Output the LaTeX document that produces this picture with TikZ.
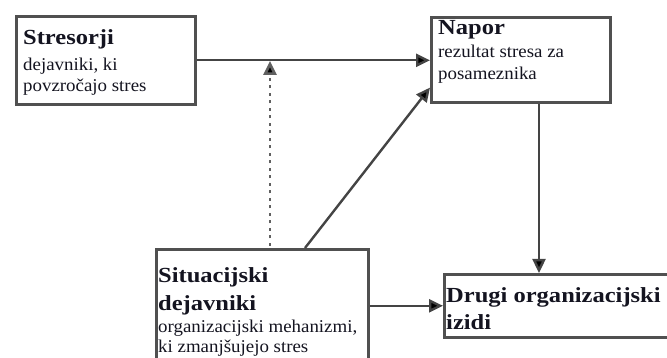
\documentclass[tikz,border=0pt]{standalone}
\usepackage{fontspec}
\setmainfont{Liberation Serif}
\newfontfamily\headfont[FakeStretch=1.14]{Liberation Serif}
\newfontfamily\bodyfont[FakeStretch=1.05]{Liberation Serif}
\usetikzlibrary{arrows.meta,calc}
\definecolor{boxgray}{HTML}{505050}
\definecolor{linegray}{HTML}{444444}
\definecolor{inkcol}{HTML}{141420}

\begin{document}
\begin{tikzpicture}[x=1pt,y=-1pt,
  box/.style={draw=boxgray, line width=2.6pt, fill=white, inner sep=0pt, anchor=north west},
  headline/.style={anchor=base west, inner sep=0pt, text=inkcol, font=\headfont\bfseries\fontsize{21.5}{24}\selectfont},
  bodyline/.style={anchor=base west, inner sep=0pt, text=inkcol, font=\bodyfont\fontsize{18}{20}\selectfont},
  conn/.style={draw=linegray, line width=2.4pt, -{Triangle[length=14pt,width=13pt,fill=black]}},
  dotconn/.style={draw=linegray!85, line width=2.6pt, dash pattern=on 3pt off 4.5pt,
    -{Triangle[length=14pt,width=13pt,fill=black]}}]

\useasboundingbox (0,0) rectangle (667,358);
\clip (0,0) rectangle (667,358);

% boxes
\node[box, minimum width=179pt, minimum height=88pt] (stres) at (15,15) {};
\node[box, minimum width=179pt, minimum height=85pt] (napor) at (430,16) {};
\node[box, minimum width=247pt, minimum height=63pt] (drugi) at (443,273) {};
\node[box, minimum width=212pt, minimum height=125pt] (situ) at (155,248) {};

% box texts
\node[headline] (stresA) at ($(stres.north west)+(8,30)$) {Stresorji};
\node[bodyline] (stresB) at ($(stres.north west)+(8,56)$) {dejavniki, ki};
\node[bodyline] (stresC) at ($(stres.north west)+(8,77)$) {povzročajo stres};

\node[headline] (naporA) at ($(napor.north west)+(8,19)$) {Napor};
\node[bodyline] (naporB) at ($(napor.north west)+(8,42)$) {rezultat stresa za};
\node[bodyline] (naporC) at ($(napor.north west)+(8,64)$) {posameznika};

\node[headline] (drugiA) at ($(drugi.north west)+(3,29)$) {Drugi organizacijski};
\node[headline] (drugiB) at ($(drugi.north west)+(3,57)$) {izidi};

\node[headline] (situA) at ($(situ.north west)+(3,35)$) {Situacijski};
\node[headline] (situB) at ($(situ.north west)+(3,62)$) {dejavniki};
\node[bodyline] (situC) at ($(situ.north west)+(3,84)$) {organizacijski mehanizmi,};
\node[bodyline] (situD) at ($(situ.north west)+(3,104)$) {ki zmanjšujejo stres};

% connectors
\coordinate (sitTop) at ($(situ.north west)+(150,0)$);
\coordinate (naporIn) at ($(napor.south west)+(0,-16)$);
\coordinate (naporOut) at ($(napor.south west)+(109,0)$);
\coordinate (dotStart) at ($(situ.north west)+(115,-2)$);
\coordinate (dotTip) at (270,61);

\draw[conn] (stres.east) -- (stres.east -| napor.west);
\draw[conn] (sitTop) -- (naporIn);
\draw[conn] (naporOut) -- (naporOut |- drugi.north);
\draw[conn] (drugi.west -| situ.east) -- (drugi.west);
\draw[dotconn] (dotStart) -- (dotTip);
\end{tikzpicture}
\end{document}
